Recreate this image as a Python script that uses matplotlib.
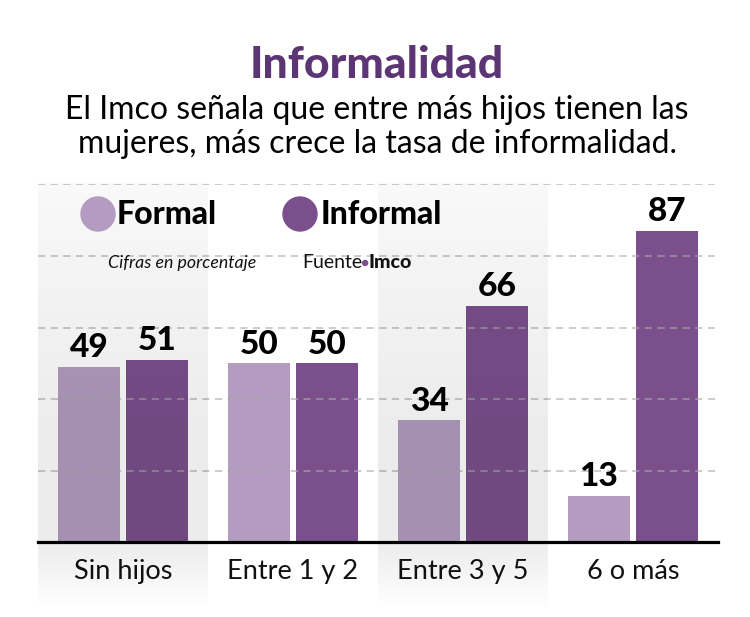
import numpy as np
import matplotlib
matplotlib.use('Agg')
import matplotlib.pyplot as plt
from matplotlib.patches import Circle

plt.rcParams['font.family'] = ['Lato', 'DejaVu Sans']

categories = ['Sin hijos', 'Entre 1 y 2', 'Entre 3 y 5', '6 o más']
formal = [49, 50, 34, 13]
informal = [51, 50, 66, 87]
series_names = ['Formal', 'Informal']

title = 'Informalidad'
subtitle = 'El Imco señala que entre más hijos tienen las\nmujeres, más crece la tasa de informalidad.'
note = 'Cifras en porcentaje'

C_FORMAL = '#b39cc0'
C_INFORMAL = '#7b4f8c'
C_TITLE = '#5c3575'

W, H = 750, 617
fig = plt.figure(figsize=(W / 100, H / 100), dpi=100)

# main bar axes, baseline at y=542px, 100 at y=184.5px
ax = fig.add_axes([38 / W, (H - 542) / H, 680 / W, (542 - 184.5) / H])
x = np.arange(len(categories))
bw = 0.365
ax.bar(x - 0.2, formal, bw, color=C_FORMAL, zorder=2)
ax.bar(x + 0.2, informal, bw, color=C_INFORMAL, zorder=2)
for xi, v in zip(x - 0.2, formal):
    ax.text(xi, v + 1.3, str(v), ha='center', va='bottom', fontsize=24,
            fontweight='black', color='black', zorder=4)
for xi, v in zip(x + 0.2, informal):
    ax.text(xi, v + 1.3, str(v), ha='center', va='bottom', fontsize=24,
            fontweight='black', color='black', zorder=4)

ax.set_xlim(-0.5, 3.5)
ax.set_ylim(0, 100)
ax.set_yticks([20, 40, 60, 80, 100])
ax.yaxis.grid(True, color='#aaaaaa', alpha=0.65, linewidth=1.3,
              linestyle=(0, (4, 3)), zorder=3)
ax.set_axisbelow(False)
ax.set_xticks(x)
ax.set_xticklabels(categories, fontsize=19.5, fontweight='normal', color='#111111')
ax.tick_params(axis='x', length=0, pad=12)
ax.tick_params(axis='y', length=0, labelleft=False)
for s in ['top', 'right', 'left']:
    ax.spines[s].set_visible(False)
ax.spines['bottom'].set_linewidth(2.3)
ax.spines['bottom'].set_color('black')
ax.spines['bottom'].set_zorder(5)
ax.patch.set_alpha(0)

# decoration layer in pixel coords
deco = fig.add_axes([0, 0, 1, 1], zorder=3)
deco.set_xlim(0, W)
deco.set_ylim(H, 0)
deco.axis('off')

yy = np.linspace(183, 612, 200)
alpha = np.interp(yy, [183, 260, 420, 545, 612], [0.025, 0.045, 0.075, 0.075, 0.0])
grad = np.zeros((len(yy), 1, 4))
grad[:, 0, 3] = alpha
for x0, x1 in [(38, 208), (378, 548)]:
    deco.imshow(grad, extent=[x0, x1, 612, 183], aspect='auto', interpolation='bilinear')
deco.set_xlim(0, W)
deco.set_ylim(H, 0)

deco.text(377, 65, title, ha='center', va='center', fontsize=32,
          fontweight='black', color=C_TITLE)
deco.text(377, 127, subtitle, ha='center', va='center', fontsize=23,
          color='black', linespacing=1.17)

deco.add_patch(Circle((98, 214), 17, color=C_FORMAL))
deco.add_patch(Circle((300, 214), 17, color=C_INFORMAL))
deco.text(117, 215, series_names[0], ha='left', va='center', fontsize=23,
          fontweight='black', color='black')
deco.text(321, 215, series_names[1], ha='left', va='center', fontsize=23,
          fontweight='black', color='black')
deco.text(108, 263, note, ha='left', va='center', fontsize=12.8,
          style='italic', color='#111111')
t1 = deco.text(302, 263, 'Fuente', ha='left', va='center', fontsize=14, color='#111111')
fig.canvas.draw()
bb = t1.get_window_extent()
xe = bb.x1 + 3
deco.add_patch(Circle((xe, 263), 2.5, color=C_INFORMAL))
deco.text(xe + 3, 263, 'Imco', ha='left', va='center', fontsize=14,
          fontweight='black', color='#111111')

fig.savefig('out.png', dpi=100)
